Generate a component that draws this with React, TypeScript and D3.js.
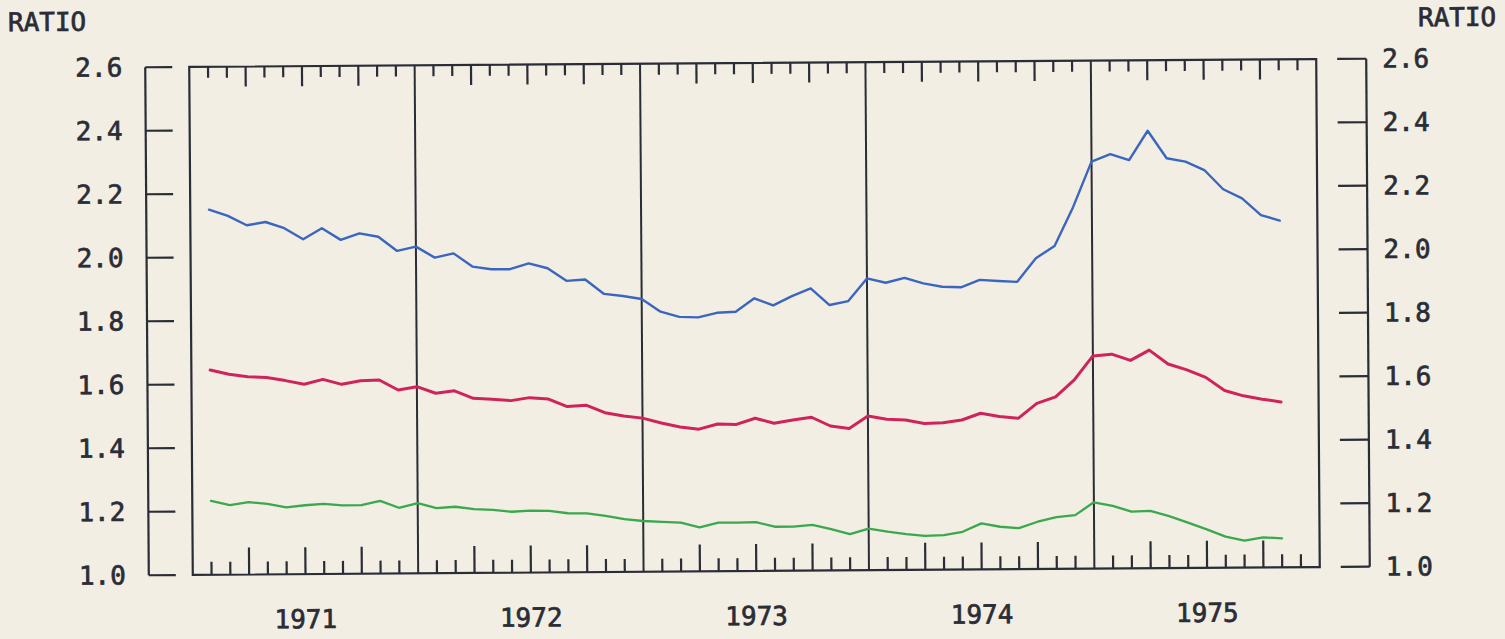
import React from "react";
import * as d3 from "d3";

// ---- data (monthly ratios, end of month, Jan 1971 .. Oct 1975) ----
const years = ["1971", "1972", "1973", "1974", "1975"];
const yTicks = [1.0, 1.2, 1.4, 1.6, 1.8, 2.0, 2.2, 2.4, 2.6];

const blueSeries = [
  2.15, 2.13, 2.1, 2.11, 2.09, 2.055, 2.089, 2.052, 2.072, 2.061, 2.016, 2.029,
  1.994, 2.007, 1.965, 1.956, 1.956, 1.974, 1.958, 1.918, 1.922, 1.876, 1.869, 1.859,
  1.819, 1.802, 1.8, 1.814, 1.817, 1.859, 1.836, 1.865, 1.889, 1.836, 1.848, 1.919,
  1.905, 1.92, 1.902, 1.891, 1.889, 1.912, 1.908, 1.905, 1.979, 2.017, 2.139, 2.282,
  2.305, 2.286, 2.378, 2.291, 2.28, 2.253, 2.192, 2.163, 2.11, 2.092,
];
const redSeries = [
  1.645, 1.631, 1.623, 1.62, 1.61, 1.598, 1.613, 1.597, 1.608, 1.61, 1.578, 1.588,
  1.567, 1.574, 1.55, 1.547, 1.542, 1.551, 1.546, 1.522, 1.526, 1.502, 1.491, 1.484,
  1.468, 1.455, 1.448, 1.464, 1.462, 1.481, 1.465, 1.475, 1.483, 1.455, 1.447, 1.486,
  1.475, 1.472, 1.461, 1.463, 1.471, 1.492, 1.481, 1.475, 1.522, 1.542, 1.595, 1.67,
  1.675, 1.655, 1.687, 1.643, 1.624, 1.6, 1.558, 1.541, 1.53, 1.521,
];
const greenSeries = [
  1.233, 1.219, 1.228, 1.222, 1.211, 1.217, 1.221, 1.216, 1.216, 1.229, 1.207, 1.221,
  1.205, 1.209, 1.201, 1.198, 1.192, 1.195, 1.194, 1.186, 1.185, 1.177, 1.166, 1.16,
  1.157, 1.154, 1.139, 1.153, 1.153, 1.154, 1.139, 1.139, 1.144, 1.13, 1.114, 1.131,
  1.121, 1.113, 1.107, 1.109, 1.119, 1.145, 1.134, 1.129, 1.149, 1.163, 1.169, 1.209,
  1.197, 1.179, 1.181, 1.164, 1.143, 1.121, 1.098, 1.085, 1.095, 1.091,
];

const seriesList = [
  { values: blueSeries, color: "#3a66c0", width: 2.4 },
  { values: redSeries, color: "#cf2459", width: 3 },
  { values: greenSeries, color: "#3aa84c", width: 2.3 },
];

const W = 1505;
const H = 639;
const BG = "#f2eee3";
const INK = "#2a2c36";
const FONT = "'DejaVu Sans Mono', monospace";

export default function App() {
  const x0 = 191;
  const x1 = 1318;
  const yTop = 63;
  const yBot = 571;
  const monthsTotal = years.length * 12;

  const x = d3.scaleLinear().domain([0, monthsTotal]).range([x0, x1]);
  const y = d3.scaleLinear().domain([1.0, 2.6]).range([yBot, yTop]);

  const line = d3
    .line<number>()
    .x((_, i) => x(i + 1))
    .y((v) => y(v));

  const monthTicks = d3.range(1, monthsTotal);
  const leftAxisX = 147;
  const rightAxisX = 1368;

  const textProps = {
    fontFamily: FONT,
    fontSize: 26,
    fill: INK,
    stroke: INK,
    strokeWidth: 0.7,
    dominantBaseline: "central" as const,
  };

  return (
    <svg
      width={W}
      height={H}
      style={{ position: "absolute", left: 0, top: 0, display: "block", background: BG }}
    >
      <rect x={0} y={0} width={W} height={H} fill={BG} />
      <g transform={`rotate(-0.4, 755, 317)`}>
        {/* axis titles */}
        <text x={10} y={17} {...textProps}>
          RATIO
        </text>
        <text x={1420} y={22} {...textProps}>
          RATIO
        </text>

        {/* left axis */}
        <line x1={leftAxisX} x2={leftAxisX} y1={y(2.6)} y2={y(1.0)} stroke={INK} strokeWidth={2.2} />
        {yTicks.map((t) => (
          <g key={"l" + t}>
            <line x1={leftAxisX} x2={leftAxisX + 27} y1={y(t)} y2={y(t)} stroke={INK} strokeWidth={2.2} />
            <text x={124} y={y(t)} textAnchor="end" {...textProps}>
              {t.toFixed(1)}
            </text>
          </g>
        ))}

        {/* right axis */}
        <line x1={rightAxisX} x2={rightAxisX} y1={y(2.6)} y2={y(1.0)} stroke={INK} strokeWidth={2.2} />
        {yTicks.map((t) => (
          <g key={"r" + t}>
            <line x1={rightAxisX - 29} x2={rightAxisX} y1={y(t)} y2={y(t)} stroke={INK} strokeWidth={2.2} />
            <text x={1384} y={y(t)} textAnchor="start" {...textProps}>
              {t.toFixed(1)}
            </text>
          </g>
        ))}

        {/* frame */}
        <rect x={x0} y={yTop} width={x1 - x0} height={yBot - yTop} fill="none" stroke={INK} strokeWidth={2.2} />

        {/* year dividers */}
        {years.slice(1).map((_, i) => (
          <line
            key={"yd" + i}
            x1={x((i + 1) * 12)}
            x2={x((i + 1) * 12)}
            y1={yTop}
            y2={yBot}
            stroke={INK}
            strokeWidth={2}
          />
        ))}

        {/* month ticks */}
        {monthTicks
          .filter((m) => m % 12 !== 0)
          .map((m) => {
            const quarter = m % 3 === 0;
            return (
              <g key={"mt" + m}>
                <line
                  x1={x(m)}
                  x2={x(m)}
                  y1={yTop}
                  y2={yTop + (quarter ? 20 : 11)}
                  stroke={INK}
                  strokeWidth={2.2}
                />
                <line
                  x1={x(m)}
                  x2={x(m)}
                  y1={yBot}
                  y2={yBot - (quarter ? 27 : 13)}
                  stroke={INK}
                  strokeWidth={2.2}
                />
              </g>
            );
          })}

        {/* year labels */}
        {years.map((yr, i) => (
          <text key={yr} x={x(i * 12 + 6)} y={616} textAnchor="middle" {...textProps}>
            {yr}
          </text>
        ))}

        {/* series */}
        {seriesList.map((s, i) => (
          <path
            key={"s" + i}
            d={line(s.values) || ""}
            fill="none"
            stroke={s.color}
            strokeWidth={s.width}
            strokeLinejoin="round"
            strokeLinecap="round"
          />
        ))}
      </g>
    </svg>
  );
}
